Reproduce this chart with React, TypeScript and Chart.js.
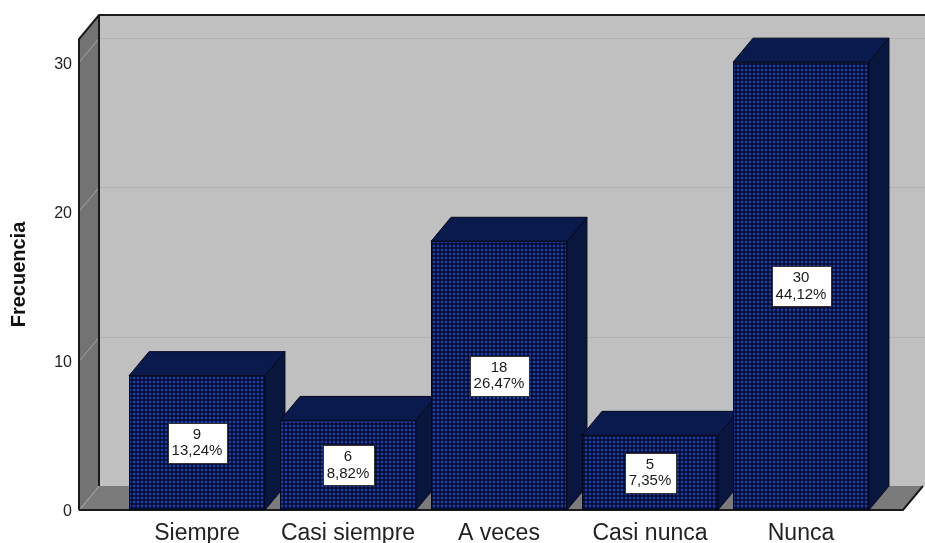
import React, { useEffect, useRef } from "react";
import { Chart, registerables } from "chart.js";

Chart.register(...registerables);

const categories = ["Siempre", "Casi siempre", "A veces", "Casi nunca", "Nunca"];
const frequencies = [9, 6, 18, 5, 30];
const percentLabels = ["13,24%", "8,82%", "26,47%", "7,35%", "44,12%"];
const yTickValues = [0, 10, 20, 30];
const yAxisTitle = "Frecuencia";

const FONT = '"Liberation Sans", Arial, Helvetica, sans-serif';
const DX = 20;
const DY = -24;

function makePattern(): CanvasPattern | string {
  const c = document.createElement("canvas");
  c.width = 4;
  c.height = 4;
  const g = c.getContext("2d");
  if (!g) return "#0e1f5e";
  for (let yy = 0; yy < 4; yy++) {
    for (let xx = 0; xx < 4; xx++) {
      const bx = xx === 1 || xx === 2;
      const by = yy === 1 || yy === 2;
      g.fillStyle = bx && by ? "#1c3ea4" : bx || by ? "#0a1a55" : "#040924";
      g.fillRect(xx, yy, 1, 1);
    }
  }
  return g.createPattern(c, "repeat") || "#0e1f5e";
}

const box3dPlugin = {
  id: "box3d",
  beforeDatasetsDraw(chart: any) {
    const { ctx, chartArea: a, scales } = chart;
    const ys = scales.y;
    const xL = a.left - 42.5;
    const xR = a.right + 26.5;
    const top = a.top;
    const bot = a.bottom;
    const W = chart.width;
    ctx.save();
    // back wall
    ctx.fillStyle = "#c0c0c0";
    ctx.fillRect(xL + DX, top + DY, W - (xL + DX), bot - top);
    // left wall
    ctx.fillStyle = "#737373";
    ctx.beginPath();
    ctx.moveTo(xL, top);
    ctx.lineTo(xL + DX, top + DY);
    ctx.lineTo(xL + DX, bot + DY);
    ctx.lineTo(xL, bot);
    ctx.closePath();
    ctx.fill();
    // floor
    ctx.fillStyle = "#7b7b7b";
    ctx.beginPath();
    ctx.moveTo(xL, bot);
    ctx.lineTo(xL + DX, bot + DY);
    ctx.lineTo(xR + DX, bot + DY);
    ctx.lineTo(xR, bot);
    ctx.closePath();
    ctx.fill();
    // gridlines
    ctx.lineWidth = 1;
    yTickValues.forEach((v) => {
      const py = Math.round(ys.getPixelForValue(v)) + 0.5;
      ctx.strokeStyle = "#a4a4a4";
      ctx.beginPath();
      ctx.moveTo(xL, py);
      ctx.lineTo(xL + DX, py + DY);
      ctx.stroke();
      if (v > 0) {
        ctx.strokeStyle = "#b2b2b2";
        ctx.beginPath();
        ctx.moveTo(xL + DX, py + DY);
        ctx.lineTo(W, py + DY);
        ctx.stroke();
      }
    });
    // edges
    ctx.strokeStyle = "#1a1a1a";
    ctx.lineWidth = 2;
    ctx.beginPath();
    ctx.moveTo(xL, bot);
    ctx.lineTo(xL, top);
    ctx.lineTo(xL + DX, top + DY);
    ctx.lineTo(W, top + DY);
    ctx.stroke();
    ctx.beginPath();
    ctx.moveTo(xL + DX, top + DY);
    ctx.lineTo(xL + DX, bot + DY);
    ctx.stroke();
    ctx.beginPath();
    ctx.moveTo(xL, bot);
    ctx.lineTo(xR, bot);
    ctx.lineTo(xR + DX, bot + DY);
    ctx.stroke();
    ctx.restore();
  },
  afterDatasetsDraw(chart: any) {
    const { ctx } = chart;
    const meta = chart.getDatasetMeta(0);
    ctx.save();
    meta.data.forEach((bar: any) => {
      const p = bar.getProps(["x", "y", "base", "width"], true);
      const x1 = p.x - p.width / 2;
      const x2 = p.x + p.width / 2;
      const yt = p.y;
      const yb = p.base;
      ctx.lineWidth = 1;
      ctx.strokeStyle = "#03081c";
      // side face
      ctx.fillStyle = "#09173f";
      ctx.beginPath();
      ctx.moveTo(x2, yt);
      ctx.lineTo(x2 + DX, yt + DY);
      ctx.lineTo(x2 + DX, yb + DY);
      ctx.lineTo(x2, yb);
      ctx.closePath();
      ctx.fill();
      ctx.stroke();
      // top face
      ctx.fillStyle = "#0b1a4c";
      ctx.beginPath();
      ctx.moveTo(x1, yt);
      ctx.lineTo(x1 + DX, yt + DY);
      ctx.lineTo(x2 + DX, yt + DY);
      ctx.lineTo(x2, yt);
      ctx.closePath();
      ctx.fill();
      ctx.stroke();
      // front face again on top
      bar.draw(ctx);
    });
    // value labels
    ctx.font = `15px ${FONT}`;
    ctx.textAlign = "center";
    ctx.textBaseline = "middle";
    meta.data.forEach((bar: any, i: number) => {
      const p = bar.getProps(["x", "y", "base"], true);
      const cx = p.x;
      const cy = (p.y + p.base) / 2;
      const l1 = String(frequencies[i]);
      const l2 = percentLabels[i];
      const tw = Math.max(ctx.measureText(l1).width, ctx.measureText(l2).width);
      const bw = Math.round(tw + 8);
      const bh = 40;
      const bx = Math.round(cx - bw / 2) + 0.5;
      const by = Math.round(cy - bh / 2) + 0.5;
      ctx.fillStyle = "#ffffff";
      ctx.fillRect(bx, by, bw, bh);
      ctx.strokeStyle = "#333333";
      ctx.lineWidth = 1;
      ctx.strokeRect(bx, by, bw, bh);
      ctx.fillStyle = "#1a1a1a";
      ctx.fillText(l1, cx, cy - 8);
      ctx.fillText(l2, cx, cy + 8.5);
    });
    ctx.restore();
  },
};

export default function App() {
  const ref = useRef<HTMLCanvasElement | null>(null);
  useEffect(() => {
    if (!ref.current) return;
    const pattern = makePattern();
    const chart = new Chart(ref.current, {
      type: "bar",
      data: {
        labels: categories,
        datasets: [
          {
            data: frequencies,
            backgroundColor: pattern as any,
            borderColor: "#03081c",
            borderWidth: 1,
            borderSkipped: false,
            barPercentage: 1,
            categoryPercentage: 0.9,
          },
        ],
      },
      options: {
        responsive: false,
        animation: false,
        layout: { padding: { top: 39, right: 48.5, left: 0, bottom: 0 } },
        plugins: {
          legend: { display: false },
          tooltip: { enabled: false },
        },
        scales: {
          x: {
            type: "category",
            grid: { display: false, drawTicks: false },
            border: { display: false },
            ticks: {
              color: "#222222",
              font: { family: FONT, size: 23 },
              padding: 10,
              maxRotation: 0,
              autoSkip: false,
            },
            afterFit: (s: any) => {
              s.height = 33;
            },
          },
          y: {
            min: 0,
            max: 31.55,
            grid: { display: false, drawTicks: false },
            border: { display: false },
            afterBuildTicks: (s: any) => {
              s.ticks = yTickValues.map((v) => ({ value: v }));
            },
            ticks: {
              color: "#222222",
              font: { family: FONT, size: 16 },
              padding: 49.5,
              labelOffset: 2,
            },
            title: {
              display: true,
              text: yAxisTitle,
              color: "#111111",
              font: { family: FONT, size: 20, weight: "bold" },
              padding: { top: 7, bottom: 0 },
            },
            afterFit: (s: any) => {
              s.width = 121.5;
              s.paddingTop = 0;
              s.paddingBottom = 0;
            },
          },
        },
      },
      plugins: [box3dPlugin],
    });
    return () => chart.destroy();
  }, []);
  return (
    <div style={{ position: "fixed", left: 0, top: 0, width: 925, height: 543, background: "#ffffff" }}>
      <canvas ref={ref} width={925} height={543} style={{ display: "block" }} />
    </div>
  );
}
